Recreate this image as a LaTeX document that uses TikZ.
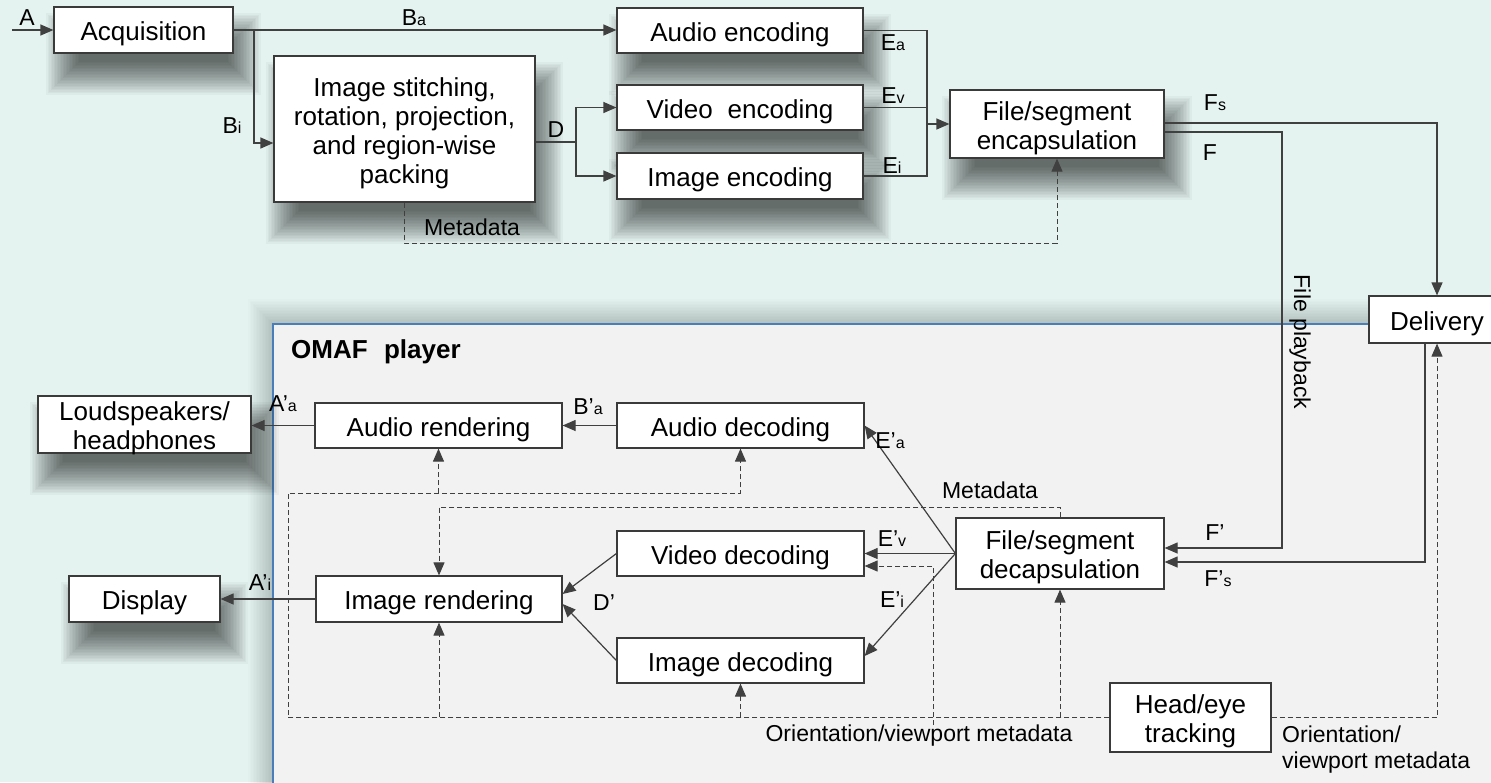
\documentclass[tikz,border=0pt]{standalone}
\usepackage{fontspec}
\setmainfont{Liberation Sans}
\usetikzlibrary{arrows.meta,calc}

\definecolor{bgmint}{HTML}{E4F3F0}
\definecolor{playerbg}{HTML}{F2F2F2}
\definecolor{playerline}{HTML}{4A7EBB}
\definecolor{boxline}{HTML}{3A3A3A}
\definecolor{wire}{HTML}{404040}

% small letter set on the baseline, as in B_a, E'_v
\newcommand{\lsub}[1]{{\fontsize{16}{16}\selectfont #1}}

\pgfdeclarelayer{bglayer}
\pgfdeclarelayer{shadowlayer}
\pgfsetlayers{bglayer,shadowlayer,main}

\begin{document}
\begin{tikzpicture}[x=1pt,y=-1pt,
  box/.style={draw=boxline, fill=white, line width=1.2pt, inner sep=0pt},
  txt/.style={inner sep=0pt, align=center, font=\fontsize{26}{29}\selectfont, yshift=-4pt},
  lbl/.style={inner sep=0pt, font=\fontsize{23}{26}\selectfont},
  line/.style={draw=wire, line width=1.2pt},
  arr/.style={line, -{Triangle[length=13pt,width=11pt]}},
  dline/.style={draw=wire, line width=1pt, dash pattern=on 5pt off 3pt},
  darr/.style={dline, -{Triangle[length=13pt,width=11pt]}},
]
\useasboundingbox (0,0) rectangle (1491,782);

% ---------- background, player area ----------
\begin{pgfonlayer}{bglayer}
  \fill[bgmint] (0,0) rectangle (1491,782);
  \foreach \r in {1,2.5,...,26}
    \fill[black,opacity=0.012] (273-\r,324-\r) rectangle (1520,820);
  \filldraw[fill=playerbg, draw=playerline, line width=1.5pt]
    (273,324) rectangle (1520,820);
\end{pgfonlayer}

% ---------- production side ----------
\node[box, minimum width=179pt, minimum height=46pt,
      label={[txt,name=acqt]center:Acquisition}] (acq) at (143.5,30) {};
\node[box, minimum width=261pt, minimum height=146pt,
      label={[txt,name=stitcht]center:{Image stitching,\\rotation, projection,\\and region-wise\\packing}}] (stitch) at (404.5,129) {};
\node[box, minimum width=246pt, minimum height=45pt,
      label={[txt,name=aenct]center:Audio encoding}] (aenc) at (740,30.5) {};
\node[box, minimum width=246pt, minimum height=45pt,
      label={[txt,name=venct]center:Video\hspace{0.3em} encoding}] (venc) at (740,107.5) {};
\node[box, minimum width=246pt, minimum height=46pt,
      label={[txt,name=ienct]center:Image encoding}] (ienc) at (740,176) {};
\node[box, minimum width=214pt, minimum height=68pt,
      label={[txt,name=encapt]center:{File/segment\\encapsulation}}] (encap) at (1057,124) {};
\node[box, minimum width=136pt, minimum height=47pt,
      label={[txt,name=delivt]center:Delivery}] (deliv) at (1437,319.5) {};

% ---------- OMAF player ----------
\node[box, minimum width=213pt, minimum height=57pt,
      label={[txt,name=spkt]center:{Loudspeakers/\\headphones}}] (spk) at (144.5,424.5) {};
\node[box, minimum width=247pt, minimum height=45pt,
      label={[txt,name=arendt]center:Audio rendering}] (arend) at (438.5,425.5) {};
\node[box, minimum width=247pt, minimum height=45pt,
      label={[txt,name=adect]center:Audio decoding}] (adec) at (740.5,425.5) {};
\node[box, minimum width=151pt, minimum height=46pt,
      label={[txt,name=dispt]center:Display}] (disp) at (144.5,599) {};
\node[box, minimum width=246pt, minimum height=46pt,
      label={[txt,name=irendt]center:Image rendering}] (irend) at (439,599) {};
\node[box, minimum width=247pt, minimum height=45pt,
      label={[txt,name=vdect]center:Video decoding}] (vdec) at (740.5,553.5) {};
\node[box, minimum width=247pt, minimum height=45pt,
      label={[txt,name=idect]center:Image decoding}] (idec) at (740.5,660.5) {};
\node[box, minimum width=208pt, minimum height=71pt,
      label={[txt,name=decapt]center:{File/segment\\decapsulation}}] (decap) at (1060,553.5) {};
\node[box, minimum width=161pt, minimum height=69pt,
      label={[txt,name=headt]center:{Head/eye\\tracking}}] (head) at (1190.5,717.5) {};

\node[inner sep=0pt, anchor=west, font=\fontsize{26}{29}\selectfont\bfseries] (omaf) at (291,352)
  {OMAF\hspace{0.35em} player};

% ---------- soft drop shadows ----------
\begin{pgfonlayer}{shadowlayer}
  \foreach \b in {acq,stitch,aenc,venc,ienc,encap,spk,disp}{
    \foreach \r in {-12,-10.5,...,21}
      \fill[black,opacity=0.03]
        ($(\b.north west)+(14-\r,28-\r)$) rectangle ($(\b.south east)+(6+\r,20+\r)$);
  }
\end{pgfonlayer}

% ---------- production connectors ----------
\coordinate (ain) at (12,30);
\draw[arr] (ain) -- (acq.west);
\node[lbl] (lA) at (27,18) {A};

\draw[arr] (acq.east) -- (acq.east -| aenc.west);
\node[lbl] (lBa) at (414,18) {B\lsub{a}};

\draw[arr] (acq.east) -| (254,143) -- (stitch.west |- 254,143);
\node[lbl] (lBi) at (232,126) {B\lsub{i}};

\draw[line] (stitch.east |- 0,142) -- (576,142);
\draw[arr] (576,142) |- (venc.west);
\draw[arr] (576,142) |- (ienc.west);
\node[lbl] (lD) at (556,130) {D};

\draw[line] (aenc.east) -| (927,0 |- ienc.east) -- (ienc.east);
\draw[line] (venc.east) -- (927,0 |- venc.east);
\draw[arr] (927,0 |- encap.west) -- (encap.west);
\node[lbl] (lEa) at (893,43) {E\lsub{a}};
\node[lbl] (lEv) at (893,96) {E\lsub{v}};
\node[lbl] (lEi) at (892,166) {E\lsub{i}};

\draw[darr] (stitch.south) |- (0,243 -| encap.south) -- (encap.south);
\node[lbl] (lmeta1) at (472,227) {Metadata};

\draw[arr] (encap.east |- 0,123) -| (deliv.north);
\node[lbl] (lFs) at (1215,103) {F\lsub{s}};
\node[lbl] (lF) at (1210,153) {F};

\draw[arr] (encap.east |- 0,132) -| (1282,548) -- (decap.east |- 0,548);
\node[lbl, rotate=-90] (lplay) at (1300,342) {File playback};
\node[lbl] (lFp) at (1215,533) {F’};

\draw[arr] (1425,0 |- deliv.south) |- (decap.east |- 0,562);
\node[lbl] (lFps) at (1218,579) {F’\lsub{s}};

% ---------- player connectors ----------
\draw[arr] (adec.west) -- (arend.east);
\node[lbl] (lBpa) at (588,407) {B’\lsub{a}};
\draw[arr] (arend.west) -- (arend.west -| spk.east);
\node[lbl] (lApa) at (283,404) {A’\lsub{a}};
\draw[arr] (irend.west) -- (disp.east);
\node[lbl] (lApi) at (260,583) {A’\lsub{i}};

\draw[arr] (decap.west) -- (adec.east);
\draw[arr] (decap.west) -- (vdec.east);
\draw[arr] (decap.west) -- (idec.east |- 0,656);
\node[lbl] (lEpa) at (890,441) {E’\lsub{a}};
\node[lbl] (lEpv) at (892,539) {E’\lsub{v}};
\node[lbl] (lEpi) at (892,600) {E’\lsub{i}};

\draw[arr] (vdec.west) -- (irend.east |- 0,594);
\draw[arr] (idec.west) -- (irend.east |- 0,604);
\node[lbl] (lDp) at (604,603) {D’};

% metadata from the decapsulation to image rendering
\draw[darr] (decap.north) |- (irend.north |- 0,507) -- (irend.north);
\node[lbl] (lmeta2) at (990,490) {Metadata};

% orientation / viewport metadata from head/eye tracking
\draw[darr] (head.west) -| (288,493) -| (adec.south);
\draw[darr] (arend.south |- 0,493) -- (arend.south);
\draw[darr] (irend.south |- 0,717) -- (irend.south);
\draw[darr] (idec.south |- 0,717) -- (idec.south);
\draw[darr] (decap.south |- 0,717) -- (decap.south);
\draw[darr] (933,725) |- (vdec.east |- 0,566);
\draw[darr] (head.east) -| (deliv.south);
\node[lbl] (lorient1) at (919,736) {Orientation/viewport metadata};
\node[lbl, anchor=west, align=left] (lorient2) at (1282,750)
  {Orientation/\\viewport metadata};

\end{tikzpicture}
\end{document}
